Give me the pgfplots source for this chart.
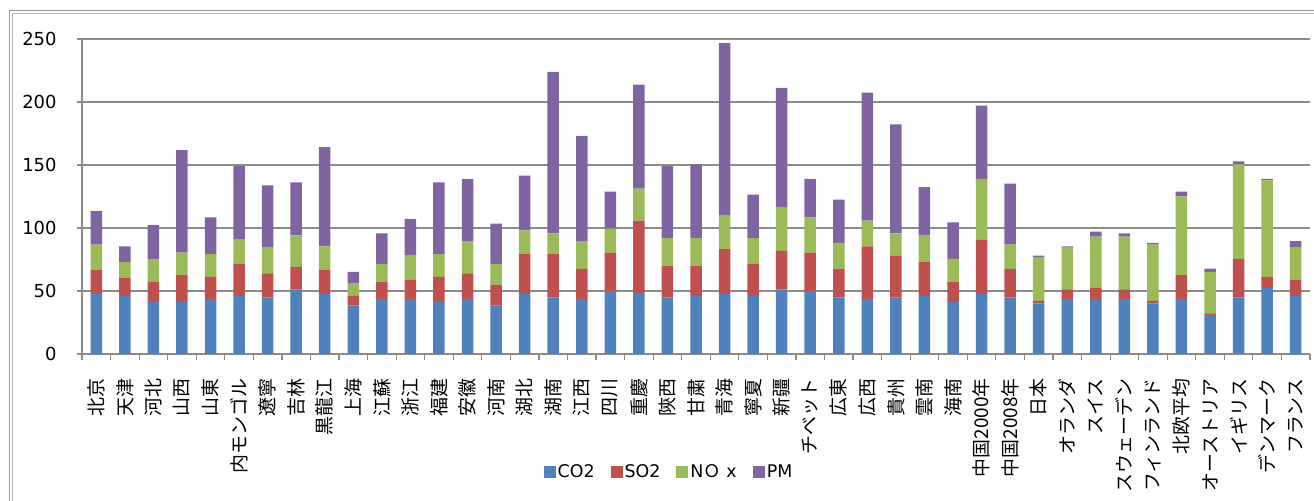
\documentclass[border=0pt]{standalone}
\usepackage{pgfplots}
\pgfplotsset{compat=1.18}
\usepackage{pgfplotstable}
\usepackage{fontspec}
\setmainfont{DejaVu Sans}
\newfontfamily\jp{Noto Sans CJK JP}

\definecolor{co2c}{HTML}{4F81BD}
\definecolor{so2c}{HTML}{C0504D}
\definecolor{noxc}{HTML}{9BBB59}
\definecolor{pmc}{HTML}{8064A2}
\definecolor{gridgray}{RGB}{140,140,140}
\definecolor{framegray}{RGB}{150,150,150}

% emissions per region: CO2, SO2, NOx, PM (stacked)
\pgfplotstableread{
x  co2  so2  nox  pm
0  47.5 19.0 20.4 26.6
1  46.2 14.0 12.7 12.6
2  41.2 16.1 17.9 27.0
3  41.2 21.4 17.9 81.3
4  43.6 17.6 18.0 29.3
5  46.2 25.3 19.3 58.4
6  44.9 19.0 20.6 49.3
7  51.2 18.0 25.0 42.0
8  47.5 19.0 19.0 78.7
9  38.5  7.7 10.0  9.0
10 43.6 13.9 14.0 24.3
11 43.6 15.3 19.2 29.1
12 42.2 19.0 18.0 57.0
13 43.6 20.3 25.6 49.4
14 38.5 16.4 16.6 32.0
15 47.5 31.7 19.0 43.3
16 44.9 34.3 16.6 128.1
17 43.6 24.0 21.9 83.7
18 49.9 30.6 19.0 29.3
19 48.6 57.3 25.3 82.6
20 44.9 25.3 21.7 57.3
21 46.2 24.0 21.7 58.6
22 47.5 35.7 26.6 137.0
23 46.2 25.3 20.4 34.6
24 51.2 30.6 34.4 95.0
25 49.9 30.6 28.0 30.4
26 44.9 22.9 20.4 34.3
27 43.6 41.9 20.4 101.6
28 44.9 33.0 17.9 86.4
29 46.2 26.7 21.6 38.0
30 41.2 16.3 18.0 29.0
31 47.5 43.0 48.4 58.3
32 44.9 22.7 19.3 48.3
33 39.9  2.3 34.6  1.3
34 43.6  7.6 33.3  1.0
35 43.6  8.9 40.7  3.9
36 43.6  7.6 42.0  2.6
37 39.9  2.3 44.7  1.3
38 43.6 19.0 62.5  3.7
39 30.9  1.3 33.0  2.6
40 44.9 30.6 75.0  2.4
41 52.5  8.7 76.6  1.1
42 46.2 12.7 25.6  5.0
}\emissions

\begin{document}
\begin{tikzpicture}
\clip (0bp,0bp) rectangle (1314bp,501bp);
% chart area frame (double line)
\draw[framegray, line width=1bp] (9bp,-20bp) -- (9bp,490bp) -- (1340bp,490bp);
\draw[framegray!70, line width=1bp] (12bp,-20bp) -- (12bp,487bp) -- (1340bp,487bp);
\begin{axis}[
  at={(82bp,147bp)}, anchor=south west,
  width=1228bp, height=315bp, scale only axis,
  ybar stacked, bar width=11.5bp,
  xmin=-0.5, xmax=42.5, ymin=0, ymax=250,
  ytick={0,50,...,250},
  xtick={0,...,42},
  minor xtick={-0.5,0.5,...,42.5},
  xticklabels={北京,天津,河北,山西,山東,内モンゴル,遼寧,吉林,黒龍江,上海,江蘇,浙江,福建,安徽,河南,湖北,湖南,江西,四川,重慶,陝西,甘粛,青海,寧夏,新疆,チベット,広東,広西,貴州,雲南,海南,中国2000年,中国2008年,日本,オランダ,スイス,スウェーデン,フィンランド,北欧平均,オーストリア,イギリス,デンマーク,フランス},
  axis x line*=bottom, axis y line*=left,
  axis line style={gridgray, line width=1.2bp},
  ymajorgrids,
  grid style={gridgray, line width=1.2bp},
  tick align=outside,
  major tick length=5bp, minor tick length=6bp,
  tick style={gridgray, line width=1.2bp},
  major x tick style={draw=none},
  /pgf/number format/assume math mode=true,
  yticklabel style={font=\fontsize{18}{20}\selectfont},
  yticklabel shift=17bp,
  xticklabel style={rotate=90, anchor=east, font=\jp\fontsize{19}{22}\selectfont},
  xticklabel shift=16bp,
  legend columns=4,
  legend style={draw=none, fill=none, at={(0.478,-0.3746)}, anchor=center,
    font=\fontsize{17.5}{20}\selectfont,
    /tikz/every even column/.append style={column sep=14bp}},
  legend image code/.code={\fill[#1] (0bp,-6bp) rectangle (12bp,6bp);},
]
\addplot[fill=co2c, draw=none] table[x=x, y=co2] {\emissions};
\addplot[fill=so2c, draw=none] table[x=x, y=so2] {\emissions};
\addplot[fill=noxc, draw=none] table[x=x, y=nox] {\emissions};
\addplot[fill=pmc, draw=none] table[x=x, y=pm] {\emissions};
\legend{CO2, SO2, N{\jp Ｏ} x, PM}
\end{axis}
\end{tikzpicture}
\end{document}
